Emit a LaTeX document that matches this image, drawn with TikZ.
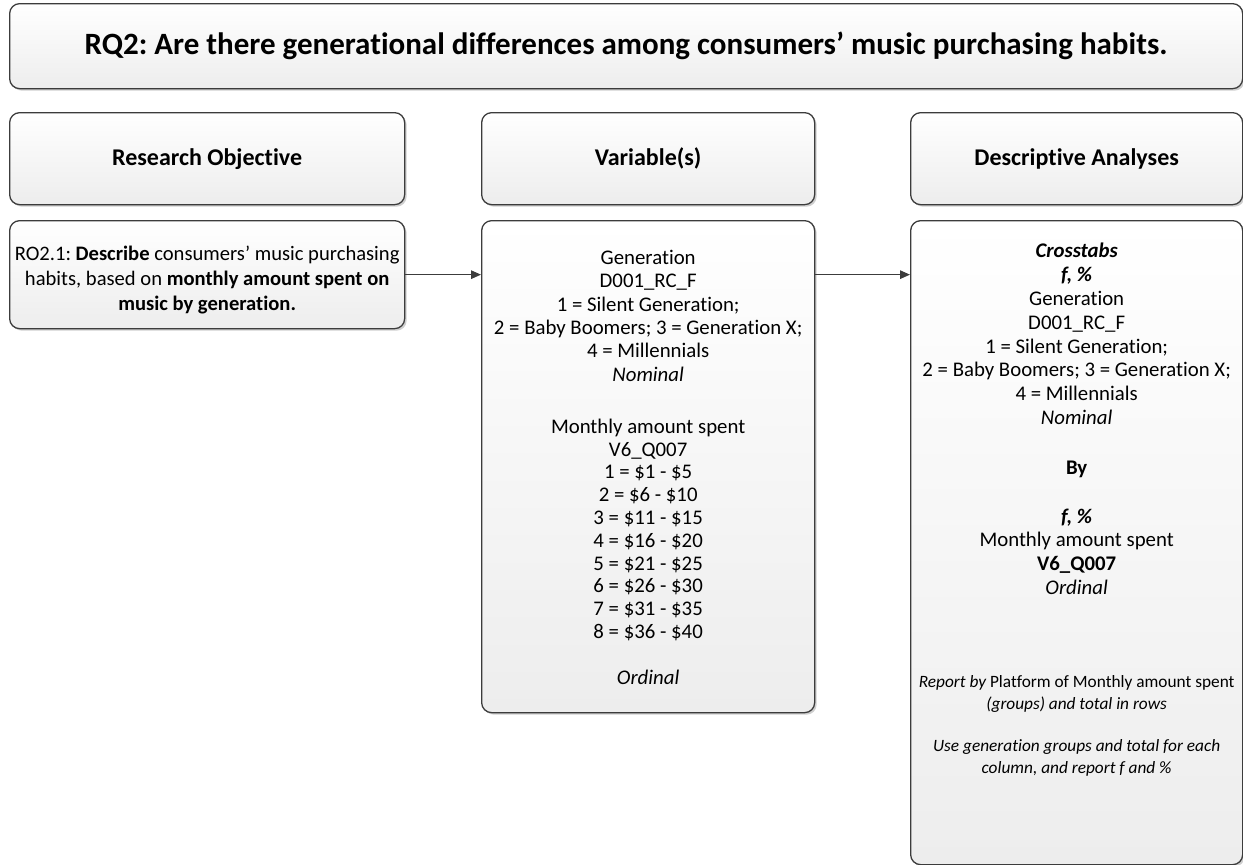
\documentclass[tikz,border=0pt]{standalone}
\usepackage{fontspec}
\setmainfont{Carlito}[Ligatures=NoCommon]
\frenchspacing
\usetikzlibrary{arrows.meta,shadows}

\definecolor{edge}{HTML}{3C3C3C}
\definecolor{shadebot}{HTML}{EDEDED}
\definecolor{shadowc}{HTML}{A8A8A8}

\tikzset{
  panel/.style={draw=edge, line width=1.3pt, rounded corners=10pt,
    top color=white, bottom color=shadebot, inner sep=0pt, anchor=north west,
    drop shadow={shadow xshift=2pt, shadow yshift=-2pt, fill=shadowc, opacity=0.55}},
  body/.style={font=\fontsize{20.8}{23.3}\selectfont, align=center, inner sep=0pt},
  note/.style={font=\fontsize{17.3}{22}\selectfont\itshape, align=center, inner sep=0pt},
  head/.style={font=\fontsize{24}{28}\selectfont\bfseries},
  conn/.style={draw=edge, line width=1.3pt, -{Triangle[length=10pt, width=8.5pt]}},
}

\begin{document}
\begin{tikzpicture}[x=1pt, y=-1pt]
\useasboundingbox (0,0) rectangle (1243,865);

% question banner
\node[panel, minimum width=1233pt, minimum height=85pt,
      font=\fontsize{31}{36}\selectfont\bfseries] (rq) at (9,3)
  {RQ2: Are there generational differences among consumers’ music purchasing habits.};

% column headers
\node[panel, head, minimum width=395pt, minimum height=92pt] (hobj) at (9,112) {Research Objective};
\node[panel, head, minimum width=333pt, minimum height=92pt] (hvar) at (481,112) {Variable(s)};
\node[panel, head, minimum width=332pt, minimum height=92pt] (hdesc) at (910,112) {Descriptive Analyses};

% objective
\node[panel, minimum width=395pt, minimum height=108pt] (obj) at (9,220) {};
\node[body, font=\fontsize{20.6}{25}\selectfont] (objtext) at ([yshift=-5pt]obj.center)
  {RO2.1: \textbf{Describe} consumers’ music purchasing\\
   habits, based on \textbf{monthly amount spent on}\\
   \textbf{music by generation.}};

% variables
\node[panel, minimum width=333pt, minimum height=492pt] (var) at (481,220) {};
\node[body, anchor=north] (vartext) at ([yshift=-30pt]var.north)
  {Generation\\
   D001\_RC\_F\\
   1 = Silent Generation;\\
   2 = Baby Boomers; 3 = Generation X;\\
   4 = Millennials\\
   \textit{Nominal}\\[29pt]
   Monthly amount spent\\[-0.5pt]
   V6\_Q007\\[-0.5pt]
   1 = \$1 - \$5\\[-0.5pt]
   2 = \$6 - \$10\\[-0.5pt]
   3 = \$11 - \$15\\[-0.5pt]
   4 = \$16 - \$20\\[-0.5pt]
   5 = \$21 - \$25\\[-0.5pt]
   6 = \$26 - \$30\\[-0.5pt]
   7 = \$31 - \$35\\[-0.5pt]
   8 = \$36 - \$40\\[23pt]
   \textit{Ordinal}};

% descriptive analyses
\node[panel, minimum width=332pt, minimum height=644pt] (desc) at (910,220) {};
\node[body, anchor=north, font=\fontsize{20.8}{23.8}\selectfont] (desctext) at ([yshift=-23pt]desc.north)
  {\textbf{\textit{Crosstabs}}\\
   \textbf{\textit{f, \%}}\\
   Generation\\
   D001\_RC\_F\\
   1 = Silent Generation;\\
   2 = Baby Boomers; 3 = Generation X;\\
   4 = Millennials\\
   \textit{Nominal}\\[26pt]
   \textbf{By}\\[25pt]
   \textbf{\textit{f, \%}}\\
   Monthly amount spent\\
   \textbf{V6\_Q007}\\
   \textit{Ordinal}};
\node[note, anchor=north] (descnote) at ([yshift=-455pt]desc.north)
  {Report by \upshape Platform of Monthly amount spent\\
   (groups) and total in rows\\[20pt]
   Use generation groups and total for each\\
   column, and report f and \%};

% connectors
\draw[conn] (obj.east) -- (obj.east -| var.west);
\draw[conn] (obj.east -| var.east) -- (obj.east -| desc.west);
\end{tikzpicture}
\end{document}
